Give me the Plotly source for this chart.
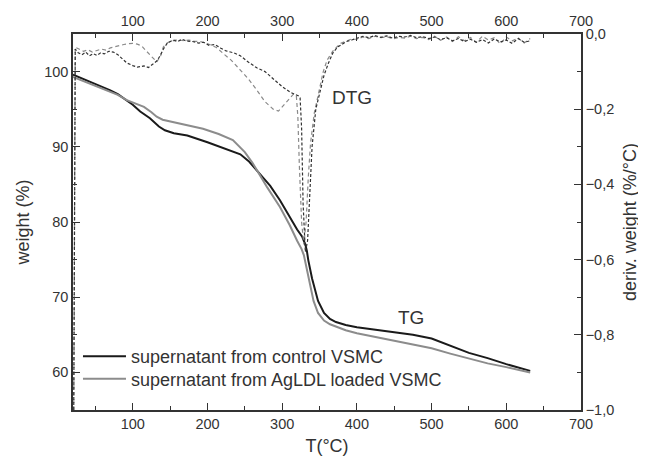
import plotly.graph_objects as go

# ---------------- data ----------------
tg_ctrl_T = [20, 30, 40, 50, 60, 70, 80, 92, 100, 110, 123, 135, 143, 155, 173, 200, 220, 244,
             256, 268, 284, 297, 310, 320, 327, 331, 333, 335, 340, 348, 356, 364, 372, 385,
             400, 425, 450, 475, 500, 525, 550, 575, 600, 632]
tg_ctrl_w = [99.6, 99.2, 98.8, 98.4, 98.0, 97.5, 97.0, 96.2, 95.6, 94.7, 93.8, 92.7, 92.2, 91.8,
             91.5, 90.6, 89.9, 89.0, 88.0, 86.6, 84.8, 82.9, 80.6, 79.0, 78.0, 77.0, 76.2, 74.9,
             72.5, 69.5, 67.9, 67.1, 66.7, 66.3, 66.0, 65.7, 65.4, 65.0, 64.5, 63.5, 62.6, 61.9,
             61.1, 60.2]

tg_ag_T = [20, 35, 50, 65, 80, 92, 105, 115, 125, 132, 140, 154, 170, 194, 215, 234, 250, 260,
           268, 280, 297, 310, 320, 326, 329, 333, 337, 342, 348, 356, 364, 372, 385, 400, 425,
           450, 475, 500, 525, 550, 575, 600, 632]
tg_ag_w = [99.3, 98.7, 98.1, 97.5, 96.9, 96.2, 95.7, 95.3, 94.6, 94.0, 93.6, 93.3, 92.9, 92.4,
           91.7, 90.9, 89.3, 87.9, 86.6, 84.6, 82.0, 79.6, 77.5, 76.4, 75.6, 73.6, 71.6, 69.5,
           67.9, 66.9, 66.4, 66.1, 65.6, 65.2, 64.7, 64.3, 63.8, 63.2, 62.5, 61.8, 61.2, 60.7,
           60.0]

dtg_ctrl_T = [21, 23, 27, 32, 37, 42, 47, 52, 57, 62, 68, 74, 80, 86, 92, 100, 106, 115, 121, 127,
              132, 136, 141, 146, 154, 160, 166, 172, 180, 188, 195, 202, 210, 218, 225, 235, 244,
              255, 266, 277, 288, 300, 311, 317, 322, 324, 326, 328, 331, 334, 337, 340, 345, 351,
              356, 362, 368, 374, 380, 386, 393,
              400, 408, 416, 424, 432, 440, 448, 456, 464, 472, 480, 488, 496, 504, 512, 520,
              528, 536, 544, 552, 560, 568, 576, 584, 592, 600, 608, 616, 624, 632]
dtg_ctrl_d = [-1.0, -0.04, -0.05, -0.055, -0.048, -0.058, -0.052, -0.057, -0.05, -0.053, -0.046,
              -0.048, -0.055, -0.065, -0.077, -0.084, -0.088, -0.085, -0.089, -0.08, -0.072,
              -0.06, -0.04, -0.025, -0.016, -0.02, -0.014, -0.019, -0.02, -0.024, -0.022, -0.03,
              -0.028, -0.038, -0.045, -0.05, -0.058, -0.075, -0.09, -0.1, -0.12, -0.14, -0.155,
              -0.16, -0.165, -0.17, -0.25, -0.45, -0.58, -0.55, -0.42, -0.30, -0.20, -0.15, -0.11,
              -0.077, -0.05, -0.035, -0.028, -0.02, -0.016,
              -0.012, -0.006, -0.010, -0.004, -0.009, -0.005, -0.011, -0.006, -0.008, -0.004,
              -0.010, -0.007, -0.012, -0.008, -0.015, -0.010, -0.018, -0.012, -0.020, -0.014,
              -0.022, -0.015, -0.024, -0.013, -0.021, -0.016, -0.025, -0.012, -0.022, -0.018]

dtg_ag_T = [21, 23, 28, 34, 40, 46, 52, 58, 64, 70, 76, 82, 88, 94, 100, 106, 112, 118, 125,
            132, 137, 141, 146, 150, 160, 168, 175, 182, 190, 198, 205, 212, 220, 232, 244, 255,
            266, 277, 288, 295, 300, 308, 315, 319, 321, 323, 326, 329, 332, 335, 338, 343, 349,
            355, 360, 368, 378, 392,
            400, 408, 416, 424, 432, 440, 448, 456, 464, 472, 480, 488, 496, 504, 512, 520, 528,
            536, 544, 552, 560, 568, 576, 584, 592, 600, 608, 616, 624, 632]
dtg_ag_d = [-1.0, -0.035, -0.04, -0.046, -0.042, -0.048, -0.044, -0.04, -0.043, -0.037, -0.034,
            -0.03, -0.028, -0.026, -0.025, -0.027, -0.032, -0.045, -0.06, -0.074, -0.06, -0.034,
            -0.024, -0.02, -0.015, -0.018, -0.016, -0.019, -0.02, -0.024, -0.03, -0.036, -0.05,
            -0.07, -0.096, -0.12, -0.149, -0.18, -0.2, -0.205, -0.194, -0.175, -0.16, -0.165,
            -0.22, -0.35, -0.5, -0.56, -0.5, -0.38, -0.29, -0.21, -0.15, -0.10, -0.07, -0.045,
            -0.025, -0.014,
            -0.014, -0.008, -0.012, -0.006, -0.010, -0.007, -0.013, -0.009, -0.011, -0.006,
            -0.012, -0.009, -0.015, -0.006, -0.017, -0.008, -0.020, -0.007, -0.018, -0.009,
            -0.022, -0.006, -0.016, -0.010, -0.026, -0.008, -0.018, -0.011, -0.024, -0.012]

legend_names = ["supernatant from control VSMC", "supernatant from AgLDL loaded VSMC"]
x_ticks = [100, 200, 300, 400, 500, 600, 700]

# ---------------- figure ----------------
AX = "#333333"
FONT = "Liberation Sans, Arial, sans-serif"

fig = go.Figure()
fig.add_trace(go.Scatter(x=dtg_ag_T, y=dtg_ag_d, mode="lines", xaxis="x2", yaxis="y2",
                         line=dict(color="#8a8a8a", width=1.2, dash="4px,3px"), showlegend=False))
fig.add_trace(go.Scatter(x=dtg_ctrl_T, y=dtg_ctrl_d, mode="lines", xaxis="x2", yaxis="y2",
                         line=dict(color="#333333", width=1.2, dash="3px,2px"), showlegend=False))
fig.add_trace(go.Scatter(x=tg_ctrl_T, y=tg_ctrl_w, mode="lines", name=legend_names[0],
                         line=dict(color="#1a1a1a", width=2), legend="legend"))
fig.add_trace(go.Scatter(x=tg_ag_T, y=tg_ag_w, mode="lines", name=legend_names[1],
                         line=dict(color="#8c8c8c", width=2), legend="legend2"))

common_x = dict(range=[20, 700], tickvals=x_ticks, ticks="inside", ticklen=7, tickwidth=1.3,
                tickcolor=AX, showline=True, linecolor=AX, linewidth=1.5, showgrid=False,
                zeroline=False, automargin=False, tickfont=dict(size=14.5, color=AX, family=FONT),
                minor=dict(tickvals=[50, 150, 250, 350, 450, 550, 650], ticks="inside",
                           ticklen=4, tickwidth=1.2, tickcolor=AX))

leg_common = dict(xanchor="left", yanchor="middle", bgcolor="rgba(0,0,0,0)",
                  font=dict(size=18, color=AX), itemwidth=43)

fig.update_layout(
    width=638, height=455,
    margin=dict(l=65, r=65, t=26, b=53),
    paper_bgcolor="white", plot_bgcolor="white",
    separators=",.",
    font=dict(family=FONT, color=AX),
    xaxis=dict(**common_x, side="bottom", anchor="y",
               title=dict(text="T(°C)", font=dict(size=18, color=AX), standoff=8)),
    xaxis2=dict(**common_x, side="top", anchor="y2", overlaying="x"),
    yaxis=dict(range=[55, 105], tickvals=[60, 70, 80, 90, 100], ticks="inside", ticklen=7,
               tickwidth=1.3, tickcolor=AX, showline=True, linecolor=AX, linewidth=1.5,
               showgrid=False, zeroline=False, automargin=False,
               tickfont=dict(size=14.5, color=AX),
               minor=dict(tickvals=[65, 75, 85, 95], ticks="inside", ticklen=4, tickwidth=1.2,
                          tickcolor=AX),
               title=dict(text="weight (%)", font=dict(size=18, color=AX), standoff=10)),
    yaxis2=dict(range=[-1, 0], tickvals=[0, -0.2, -0.4, -0.6, -0.8, -1.0], tickformat=".1f",
                side="right", overlaying="y", anchor="x2", ticks="inside", ticklen=7,
                tickwidth=1.3, tickcolor=AX, showline=True, linecolor=AX, linewidth=1.5,
                showgrid=False, zeroline=False, automargin=False,
                tickfont=dict(size=14.5, color=AX),
                minor=dict(tickvals=[-0.1, -0.3, -0.5, -0.7, -0.9], ticks="inside", ticklen=4,
                           tickwidth=1.2, tickcolor=AX)),
    legend=dict(x=0.0098, y=(410 - 356.5) / 376, **leg_common),
    legend2=dict(x=0.0098, y=(410 - 379) / 376, **leg_common),
    annotations=[
        dict(text="DTG", x=394, y=-0.168, xref="x2", yref="y2", showarrow=False,
             font=dict(size=19, color=AX)),
        dict(text="TG", x=472, y=67.3, xref="x", yref="y", showarrow=False,
             font=dict(size=19, color=AX)),
        dict(text="deriv. weight (%/°C)", x=(642 - 8 - 65) / 508, y=0.5, xref="paper",
             yref="paper", textangle=-90, showarrow=False, font=dict(size=18, color=AX)),
    ],
)

fig.write_html("out.html")
